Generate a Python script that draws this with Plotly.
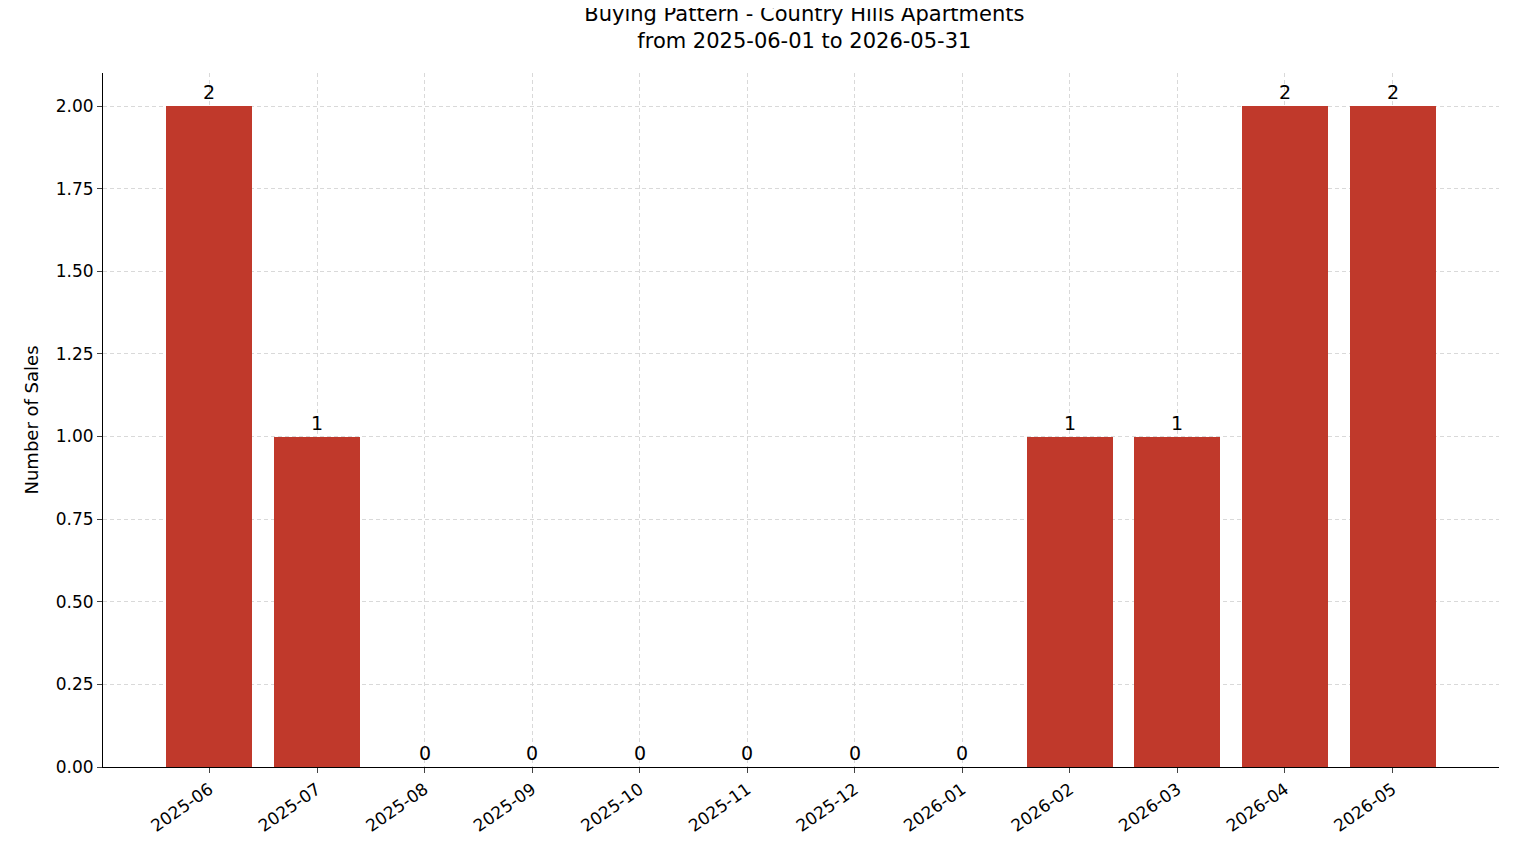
import plotly.graph_objects as go

months = ["2025-06","2025-07","2025-08","2025-09","2025-10","2025-11","2025-12","2026-01","2026-02","2026-03","2026-04","2026-05"]
sales = [2,1,0,0,0,0,0,0,1,1,2,2]

fig = go.Figure(go.Bar(
    x=list(range(len(months))), y=sales, width=0.8,
    marker=dict(color="#c0392b", line=dict(width=0)),
    text=[str(v) for v in sales], textposition="outside",
    textfont=dict(size=19, color="black"), cliponaxis=False,
))
fig.update_layout(
    width=1514, height=863,
    margin=dict(l=95, r=23, t=65, b=104),
    paper_bgcolor="white", plot_bgcolor="white",
    font=dict(family="DejaVu Sans", size=17, color="black"),
    title=dict(text="Buying Pattern - Country Hills Apartments<br>from 2025-06-01 to 2026-05-31",
               x=0.526, xanchor="center", y=0.985, yanchor="top", font=dict(size=21)),
    showlegend=False, bargap=0,
)
fig.update_xaxes(range=[-0.99, 11.99], tickmode="array", tickvals=list(range(len(months))),
                 ticktext=months, tickangle=-35, showline=True, linecolor="black",
                 ticks="outside", ticklen=5, showgrid=True, gridcolor="#d9d9d9",
                 griddash="4px,3px", zeroline=False)
fig.update_yaxes(range=[0, 2.1], tickvals=[0,0.25,0.5,0.75,1,1.25,1.5,1.75,2],
                 tickformat=".2f", showline=True, linecolor="black", ticks="outside",
                 ticklen=5, showgrid=True, gridcolor="#d9d9d9", griddash="4px,3px",
                 zeroline=False, title=dict(text="Number of Sales", font=dict(size=18), standoff=12))
fig.write_html("out.html")
